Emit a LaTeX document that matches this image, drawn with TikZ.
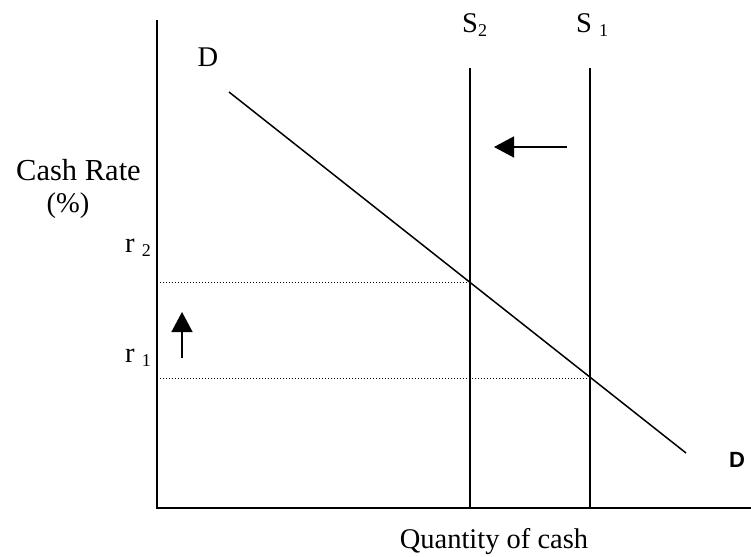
\documentclass[tikz,border=0pt]{standalone}
\usepackage{fontspec}
\setmainfont{Liberation Serif}
\newfontfamily\boldsans{Liberation Sans}
\usetikzlibrary{arrows.meta}
\newcommand{\subnum}[1]{\raisebox{-4pt}{\fontsize{18}{18}\selectfont #1}}
\tikzset{
  lbl/.style={inner sep=0pt, anchor=base, font=\fontsize{28.5}{30}\selectfont},
  lblw/.style={inner sep=0pt, anchor=base west, font=\fontsize{28.5}{30}\selectfont},
  axis/.style={line width=2pt},
  supply/.style={line width=1.8pt},
  demand/.style={line width=1.5pt},
  guide/.style={line width=1pt, dash pattern=on 1pt off 2pt},
  shiftarrow/.style={line width=1.5pt, -{Triangle[length=20pt,width=21pt]}}
}
\begin{document}
\begin{tikzpicture}[x=1pt,y=-1pt]
\useasboundingbox (0,0) rectangle (751,556);
% coordinates
\coordinate (ytop) at (157,20);
\coordinate (O) at (157,508);
\coordinate (xend) at (751,508);
\coordinate (s2top) at (470,68);
\coordinate (s2bot) at (470,508);
\coordinate (s1top) at (590,68);
\coordinate (s1bot) at (590,508);
\coordinate (d1) at (229,92);
\coordinate (d2) at (686,453);
\coordinate (r2a) at (157,282);
\coordinate (r2b) at (470,282);
\coordinate (r1a) at (157,378);
\coordinate (r1b) at (590,378);
\coordinate (la1) at (567,147);
\coordinate (la2) at (494,147);
\coordinate (ua1) at (182,358);
\coordinate (ua2) at (182,312);
% axes
\draw[axis] (ytop) -- (O) -- (xend);
% guides
\draw[guide] (r2a) -- (r2b);
\draw[guide] (r1a) -- (r1b);
% supply curves
\draw[supply] (s2top) -- (s2bot);
\draw[supply] (s1top) -- (s1bot);
% demand
\draw[demand] (d1) -- (d2);
% shift arrows
\draw[shiftarrow] (la1) -- (la2);
\draw[shiftarrow] (ua1) -- (ua2);
% labels
\node[lbl] (dlab) at (208,67) {D};
\node[lblw] (s2lab) at (462,33) {S\subnum{2}};
\node[lblw] (s1lab) at (576,33) {S \subnum{1}};
\node[lbl, font=\fontsize{30.5}{32}\selectfont] (ylab1) at (78.5,180) {Cash Rate};
\node[lbl] (ylab2) at (68,212) {(\%)};
\node[lblw] (r2lab) at (125,252) {r \subnum{2}};
\node[lblw] (r1lab) at (125,362) {r \subnum{1}};
\node[inner sep=0pt, anchor=base, font=\boldsans\bfseries\fontsize{22}{24}\selectfont] (dlab2) at (737,467) {D};
\node[lbl] (xlab) at (494,548) {Quantity of cash};
\end{tikzpicture}
\end{document}
